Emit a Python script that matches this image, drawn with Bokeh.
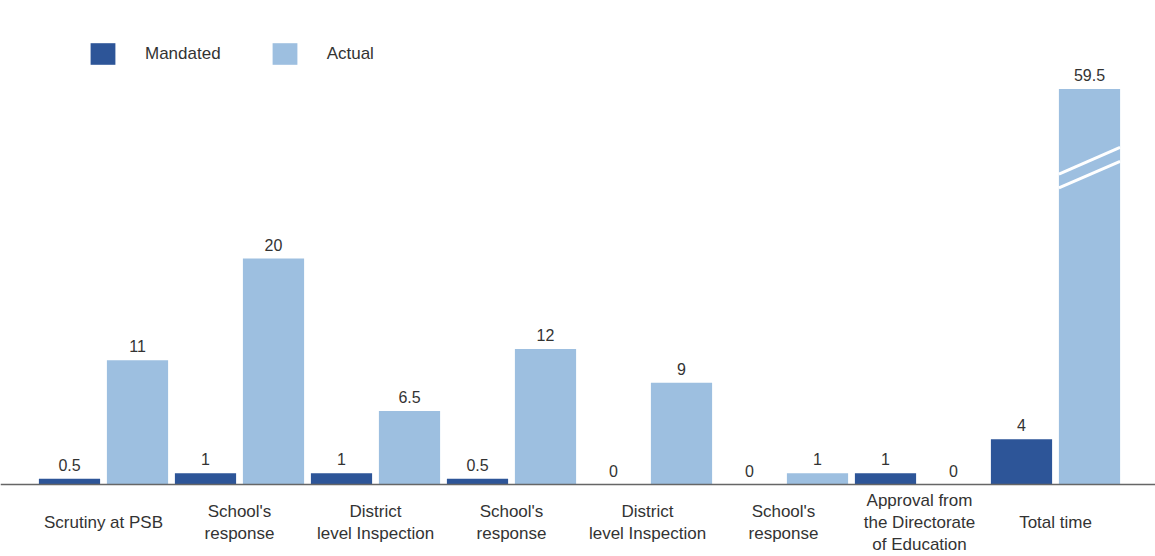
from bokeh.plotting import figure
from bokeh.models import ColumnDataSource, Range1d, Legend, LegendItem, Span
from bokeh.core.properties import value
from bokeh.embed import file_html
from bokeh.resources import INLINE

# ---- data ----
categories = ["Scrutiny at PSB", "School's\nresponse", "District\nlevel Inspection",
              "School's\nresponse", "District\nlevel Inspection", "School's\nresponse",
              "Approval from\nthe Directorate\nof Education", "Total time"]
mandated = [0.5, 1, 1, 0.5, 0, 0, 1, 4]
actual = [11, 20, 6.5, 12, 9, 1, 0, 59.5]
display_cap = 35  # axis break: bars taller than this are drawn cut

series_names = ["Mandated", "Actual"]
colors = ["#2d5598", "#9dbfe0"]
FONT = "Liberation Sans"
TXT = "#333333"

n = len(categories)
idx = list(range(n))
px_per_unit_x = 136.0
px_per_unit_y = 11.3
W, H = 1155, 556
baseline_px = 484

x0 = -103 / px_per_unit_x
y0 = -(H - baseline_px) / px_per_unit_y

p = figure(width=W, height=H, output_backend="svg", toolbar_location=None,
           x_range=Range1d(x0, x0 + W / px_per_unit_x),
           y_range=Range1d(y0, y0 + H / px_per_unit_y),
           min_border=0, min_border_left=0, min_border_right=0,
           min_border_top=0, min_border_bottom=0)
p.axis.visible = False
p.grid.visible = False
p.outline_line_color = None
p.background_fill_color = "white"
p.border_fill_color = "white"

off = 0.25
bw = 0.45

def shown(v):
    return min(v, display_cap)

src_m = ColumnDataSource(dict(x=[i - off for i in idx], top=mandated,
                              lab=[f"{v:g}" for v in mandated]))
src_a = ColumnDataSource(dict(x=[i + off for i in idx], top=[shown(v) for v in actual],
                              lab=[f"{v:g}" for v in actual]))

r_m = p.vbar(x="x", top="top", bottom=0, width=bw, source=src_m,
             fill_color=colors[0], line_color=None)
r_a = p.vbar(x="x", top="top", bottom=0, width=bw, source=src_a,
             fill_color=colors[1], line_color=None)

# axis break marks on truncated bars
bx0, bx1, by0, by1 = [], [], [], []
for i, v in enumerate(actual):
    if v > display_cap:
        for base in (display_cap * 0.75, display_cap * 0.785):
            bx0.append(i + off - bw / 2)
            bx1.append(i + off + bw / 2)
            by0.append(base)
            by1.append(base + 2.35)
p.segment(x0=bx0, y0=by0, x1=bx1, y1=by1, line_color="white", line_width=3)

# baseline
p.add_layout(Span(location=0, dimension="width", line_color="#666666", line_width=1.5))

# value labels
for src in (src_m, src_a):
    p.text(x="x", y="top", text="lab", source=src, text_align="center",
           text_baseline="bottom", y_offset=-8, text_font=value(FONT),
           text_font_size="16px", text_color=TXT)

# category labels
p.text(x=idx, y=[-(522 - baseline_px) / px_per_unit_y] * n, text=categories,
       text_align="center", text_baseline="middle", text_font=value(FONT),
       text_font_size="17px", text_color=TXT, text_line_height=1.15)

legend = Legend(items=[LegendItem(label=series_names[0], renderers=[r_m]),
                       LegendItem(label=series_names[1], renderers=[r_a])],
                orientation="horizontal", location=(87, H - 67),
                glyph_width=31, glyph_height=27, label_standoff=27, spacing=48,
                padding=0, margin=0, border_line_color=None,
                background_fill_alpha=0,
                label_text_font=FONT, label_text_font_size="17px",
                label_text_color=TXT, label_text_baseline="middle")
p.add_layout(legend, "center")

open("out.html", "w").write(file_html(p, INLINE))
